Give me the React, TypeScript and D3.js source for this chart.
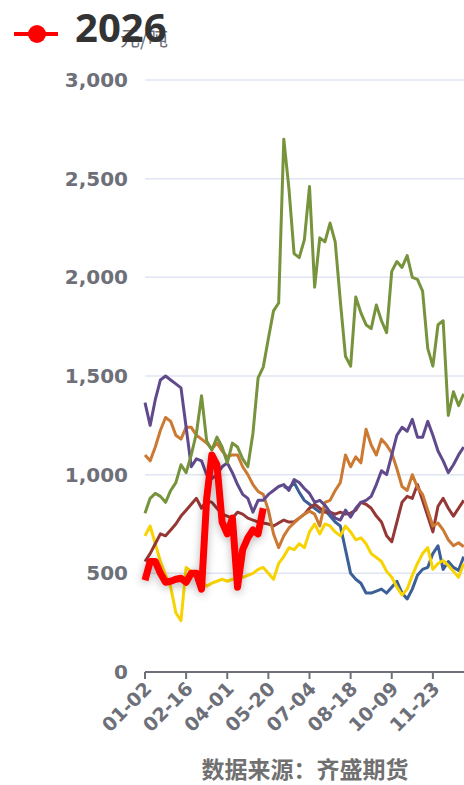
import React from 'react';
import * as d3 from 'd3';

// sampling: one value every STEP trading days, index k -> day k*STEP
const STEP = 4;
const DAYS = 250;
const tickLabels = ['01-02', '02-16', '04-01', '05-20', '07-04', '08-18', '10-09', '11-23'];
const tickDays = [0, 32, 64, 96, 128, 160, 192, 224];
const yTicks = [0, 500, 1000, 1500, 2000, 2500, 3000];

const greenVals = [
  805, 880, 905, 890, 860, 920, 960, 1050, 1010, 1100,
  1210, 1400, 1170, 1125, 1190, 1140, 1060, 1160, 1140, 1080,
  1040, 1210, 1490, 1545, 1690, 1830, 1870, 2700, 2450, 2120,
  2100, 2190, 2460, 1950, 2200, 2180, 2275, 2180, 1880, 1600,
  1550, 1900, 1820, 1760, 1740, 1860, 1780, 1720, 2030, 2080,
  2050, 2110, 2000, 1990, 1930, 1640, 1550, 1760, 1780, 1300,
  1420, 1350, 1410,
];
const purpleVals = [
  1365, 1250, 1380, 1480, 1500, 1480, 1460, 1440, 1240, 1040,
  1080, 1070, 1000, 980, 1000, 1040, 1060, 1010, 950, 900,
  880, 810, 870, 870, 900, 920, 940, 950, 920, 975,
  960, 930, 905, 860, 870, 845, 810, 780, 770, 820,
  785, 830, 860, 870, 890, 950, 1020, 1000, 1100, 1200,
  1240, 1220, 1280, 1190, 1190, 1270, 1200, 1120, 1070, 1010,
  1050, 1100, 1140,
];
const orangeVals = [
  1100, 1070, 1140, 1225, 1290, 1270, 1200, 1180, 1240, 1240,
  1200, 1180, 1160, 1130, 1160, 1120, 1090, 1100, 1100, 1040,
  1000, 950, 915, 900, 820, 700, 630, 690, 730, 755,
  780, 800, 815, 800, 740, 860, 870, 920, 960, 1100,
  1040, 1090, 1060, 1230, 1150, 1100, 1180, 1150, 1110, 1030,
  940, 920, 1000, 935, 900, 820, 740, 755, 720, 670,
  640, 655, 635,
];
const darkRedVals = [
  560, 600, 650, 700, 690, 720, 750, 790, 820, 850,
  880, 830, 870, 860, 830, 800, 790, 780, 810, 800,
  780, 770, 760, 755, 750, 740, 755, 770, 760, 760,
  780, 800, 830, 850, 830, 810, 810, 800, 810, 800,
  805, 820, 860, 850, 830, 790, 760, 690, 660, 760,
  860, 890, 880, 950, 870, 790, 710, 840, 880, 830,
  790, 830, 870,
];
const yellowVals = [
  690, 740, 650, 560, 490, 430, 300, 260, 530, 510,
  480, 460, 435, 450, 460, 470, 460, 470, 470, 480,
  490, 500, 520, 530, 500, 470, 550, 585, 630, 620,
  650, 630, 710, 750, 700, 750, 740, 710, 690, 740,
  710, 670, 680, 650, 600, 580, 560, 510, 480, 430,
  390, 420, 490, 550, 600, 630, 520, 550, 565, 540,
  510, 480, 550,
];
const blueStart = 27;
const blueVals = [
  940, 930, 960, 910, 870, 850, 830, 810, 820, 790,
  760, 740, 620, 500, 470, 450, 400, 400, 410, 420,
  400, 430, 460, 400, 370, 420, 490, 520, 530, 600,
  640, 520, 560, 530, 515, 585,
];
const red2026Vals = [
  465, 560, 560, 500, 455, 460, 470, 475, 455, 500,
  500, 420, 880, 1100, 1050, 760, 700, 780, 430, 620,
  680, 720, 700, 830,
];

const series = [
  { name: 'blue', color: '#3b5f96', width: 3, start: blueStart, values: blueVals },
  { name: 'yellow', color: '#f7d300', width: 3, start: 0, values: yellowVals },
  { name: 'darkred', color: '#953735', width: 3, start: 0, values: darkRedVals },
  { name: 'orange', color: '#cc7a33', width: 3, start: 0, values: orangeVals },
  { name: 'purple', color: '#604a8b', width: 3, start: 0, values: purpleVals },
  { name: 'green', color: '#77933c', width: 3, start: 0, values: greenVals },
];

const W = 464;
const H = 785;

export default function App() {
  const x = d3.scaleLinear().domain([0, DAYS - 1]).range([145, 465]);
  const y = d3.scaleLinear().domain([0, 3000]).range([672, 80]);
  const line = d3
    .line<[number, number]>()
    .x((d) => x(d[0]))
    .y((d) => y(d[1]));
  const toPts = (start: number, vals: number[]): [number, number][] =>
    vals.map((v, i) => [(start + i) * STEP, v]);
  const fmt = d3.format(',');
  const axisColor = '#6e7079';

  return (
    <svg
      width={W}
      height={H}
      style={{ position: 'absolute', left: 0, top: 0, background: '#fff' }}
    >
      <defs>
        <filter id="shadow" x="-20%" y="-20%" width="140%" height="140%">
          <feDropShadow dx="0" dy="2" stdDeviation="4" floodColor="#000" floodOpacity="0.3" />
        </filter>
      </defs>
      <rect x={0} y={0} width={W} height={H} fill="#fff" />
      {/* grid */}
      {yTicks.filter((t) => t > 0).map((t) => (
        <line key={t} x1={145} x2={W} y1={y(t)} y2={y(t)} stroke="#e0e6f1" strokeWidth={1.5} />
      ))}
      {/* y labels */}
      {yTicks.map((t) => (
        <text
          key={t}
          x={128}
          y={y(t)}
          textAnchor="end"
          dominantBaseline="central"
          fontFamily="DejaVu Sans"
          fontWeight="bold"
          fontSize={20}
          fill={axisColor}
        >
          {fmt(t)}
        </text>
      ))}
      {/* y axis name */}
      <text
        x={144}
        y={46}
        textAnchor="middle"
        fontFamily="Noto Sans CJK SC"
        fontSize={20}
        fill={axisColor}
      >
        元/吨
      </text>
      {/* series */}
      {series.map((s) => (
        <path
          key={s.name}
          d={line(toPts(s.start, s.values)) || ''}
          fill="none"
          stroke={s.color}
          strokeWidth={s.width}
          strokeLinejoin="round"
        />
      ))}
      <path
        d={line(toPts(0, red2026Vals)) || ''}
        fill="none"
        stroke="#ff0000"
        strokeWidth={7}
        strokeLinejoin="round"
        filter="url(#shadow)"
      />
      {/* x axis */}
      <line x1={145} x2={W} y1={672} y2={672} stroke={axisColor} strokeWidth={2} />
      {tickDays.map((d, i) => (
        <g key={d}>
          <line x1={x(d)} x2={x(d)} y1={672} y2={679} stroke={axisColor} strokeWidth={2} />
          <text
            transform={`translate(${x(d) + 3},${685}) rotate(-45)`}
            textAnchor="end"
            dominantBaseline="central"
            fontFamily="DejaVu Sans"
            fontWeight="bold"
            fontSize={19}
            fill={axisColor}
          >
            {tickLabels[i]}
          </text>
        </g>
      ))}
      {/* legend */}
      <line x1={14} x2={58} y1={34} y2={34} stroke="#ff0000" strokeWidth={4} />
      <circle cx={37} cy={34} r={9} fill="#ff0000" />
      <text
        x={75}
        y={42}
        fontFamily="Noto Sans"
        fontWeight="bold"
        fontSize={40}
        fill="#333"
      >
        2026
      </text>
      {/* source */}
      <text
        x={305}
        y={778}
        textAnchor="middle"
        fontFamily="Noto Sans CJK SC"
        fontWeight="bold"
        fontSize={23}
        fill="#707070"
      >
        数据来源：齐盛期货
      </text>
    </svg>
  );
}
